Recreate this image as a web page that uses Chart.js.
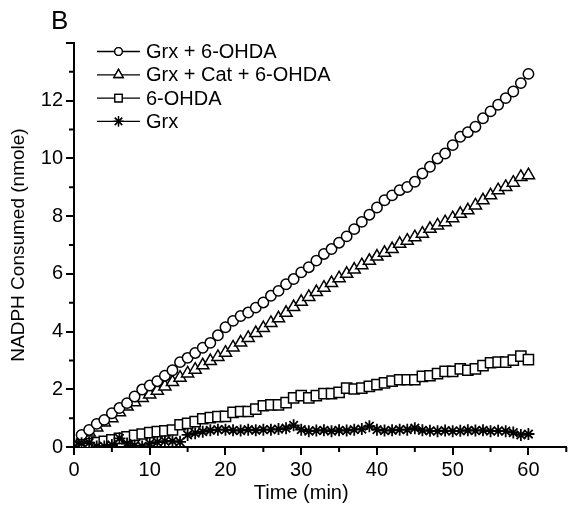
<!DOCTYPE html>
<html>
<head>
<meta charset="utf-8">
<script src="https://cdn.jsdelivr.net/npm/chart.js@4.4.0/dist/chart.umd.min.js"></script>
<style>
    html, body { margin: 0; padding: 0; background: #fff; }
    #wrap { width: 575px; height: 510px; }
</style>
</head>
<body>
<div id="wrap"><canvas id="nadphChart" width="575" height="510"></canvas></div>
<script>
// time points (min)
const timeMin = [0, 1, 2, 3, 4, 5, 6, 7, 8, 9, 10, 11, 12, 13, 14, 15, 16, 17, 18, 19, 20,
    21, 22, 23, 24, 25, 26, 27, 28, 29, 30, 31, 32, 33, 34, 35, 36, 37, 38, 39, 40,
    41, 42, 43, 44, 45, 46, 47, 48, 49, 50, 51, 52, 53, 54, 55, 56, 57, 58, 59, 60];

// NADPH consumed (nmole)
const grxOhda = [0, 0.42, 0.59, 0.80, 0.94, 1.17, 1.35, 1.52, 1.75, 1.99, 2.13,
    2.28, 2.47, 2.66, 2.94, 3.09, 3.26, 3.44, 3.61, 3.87, 4.15,
    4.37, 4.54, 4.66, 4.83, 5.01, 5.24, 5.41, 5.64, 5.82, 6.05,
    6.23, 6.46, 6.69, 6.86, 7.08, 7.30, 7.55, 7.80, 8.05, 8.30,
    8.55, 8.72, 8.90, 9.01, 9.19, 9.48, 9.71, 10.00, 10.17, 10.46,
    10.75, 10.91, 11.10, 11.39, 11.63, 11.86, 12.09, 12.32, 12.61, 12.93];

const grxCatOhda = [0, 0.30, 0.50, 0.68, 0.85, 1.00, 1.20, 1.40, 1.55, 1.70, 1.82,
    1.95, 2.10, 2.25, 2.40, 2.55, 2.68, 2.83, 2.98, 3.12, 3.27,
    3.45, 3.62, 3.78, 3.95, 4.12, 4.30, 4.46, 4.65, 4.85, 5.03,
    5.20, 5.37, 5.52, 5.68, 5.85, 6.00, 6.15, 6.30, 6.45, 6.60,
    6.73, 6.86, 7.04, 7.15, 7.27, 7.39, 7.56, 7.68, 7.79, 7.93,
    8.08, 8.20, 8.37, 8.55, 8.72, 8.90, 9.01, 9.16, 9.36, 9.42];

const ohdaOnly = [0, 0.10, 0.12, 0.15, 0.20, 0.25, 0.30, 0.35, 0.40, 0.45, 0.50,
    0.53, 0.56, 0.59, 0.77, 0.82, 0.88, 0.98, 1.02, 1.05, 1.06,
    1.20, 1.23, 1.23, 1.31, 1.43, 1.46, 1.46, 1.54, 1.70, 1.78,
    1.70, 1.78, 1.85, 1.85, 1.89, 2.04, 2.01, 2.04, 2.10, 2.16,
    2.22, 2.28, 2.33, 2.33, 2.33, 2.45, 2.47, 2.54, 2.62, 2.62,
    2.71, 2.66, 2.71, 2.82, 2.92, 2.94, 2.94, 3.01, 3.15, 3.03];

const grxOnly = [0, 0.13, 0.15, 0.02, 0.02, 0.07, 0.30, 0.12, 0.05, 0.02, 0.12,
    0.17, 0.20, 0.20, 0.18, 0.42, 0.48, 0.53, 0.58, 0.60, 0.60,
    0.58, 0.57, 0.60, 0.58, 0.60, 0.60, 0.62, 0.65, 0.75, 0.60,
    0.55, 0.57, 0.58, 0.55, 0.58, 0.57, 0.60, 0.62, 0.72, 0.60,
    0.57, 0.58, 0.60, 0.60, 0.65, 0.58, 0.56, 0.55, 0.57, 0.55,
    0.56, 0.58, 0.57, 0.58, 0.55, 0.56, 0.55, 0.50, 0.42, 0.45];

const seriesNames = ['Grx + 6-OHDA', 'Grx + Cat + 6-OHDA', '6-OHDA', 'Grx'];

// axis ticks
const xMajorTicks = [0, 10, 20, 30, 40, 50, 60];
const xMinorTicks = [5, 15, 25, 35, 45, 55, 65];
const yMajorTicks = [0, 2, 4, 6, 8, 10, 12, 14];
const yTickLabels = ['0', '2', '4', '6', '8', '10', '12', ''];
const yMinorTicks = [1, 3, 5, 7, 9, 11, 13];

const FONT = 'Arial, "Liberation Sans", sans-serif';
const markerStyles = ['circle', 'triangle', 'rect', 'star'];
const markerRadius = [5.2, 7, 7.2, 6];
const markerBorder = [1.5, 1.5, 1.5, 1.8];
const drawOrder = [1, 2, 3, 0];   // stars end up on top

function toPoints(values) {
    return timeMin.map((t, i) => ({ x: t, y: values[i] }));
}

const allSeries = [grxOhda, grxCatOhda, ohdaOnly, grxOnly];

// draws the panel letter, minor ticks, x title and the legend
const extrasPlugin = {
    id: 'extras',
    afterDraw(chart) {
        const ctx = chart.ctx;
        const xs = chart.scales.x;
        const ys = chart.scales.y;
        const area = chart.chartArea;

        ctx.save();
        ctx.strokeStyle = '#000';
        ctx.lineWidth = 2;
        ctx.beginPath();
        xMinorTicks.forEach(v => {
            const px = xs.getPixelForValue(v);
            ctx.moveTo(px, area.bottom);
            ctx.lineTo(px, area.bottom + 5);
        });
        yMinorTicks.forEach(v => {
            const py = ys.getPixelForValue(v);
            ctx.moveTo(area.left, py);
            ctx.lineTo(area.left - 5, py);
        });
        ctx.stroke();

        // panel letter
        ctx.fillStyle = '#000';
        ctx.font = '26px ' + FONT;
        ctx.textBaseline = 'alphabetic';
        ctx.textAlign = 'left';
        ctx.fillText('B', 51, 29);

        // x axis title, centred on the data range
        ctx.font = '20px ' + FONT;
        ctx.textAlign = 'center';
        ctx.textBaseline = 'middle';
        ctx.fillText('Time (min)', xs.getPixelForValue(30), 493);

        // legend
        ctx.textAlign = 'left';
        const legendMarker = [3.8, 5.4, 5.2, 5.2];
        seriesNames.forEach((name, i) => {
            const rowY = 51.5 + i * 23.3;
            ctx.lineWidth = 1.3;
            ctx.strokeStyle = '#000';
            ctx.beginPath();
            ctx.moveTo(97, rowY);
            ctx.lineTo(140, rowY);
            ctx.stroke();
            Chart.helpers.drawPoint(ctx, {
                pointStyle: markerStyles[i],
                radius: legendMarker[i],
                rotation: 0,
                borderWidth: 1.3
            }, 118.5, rowY);
            ctx.fillStyle = '#fff';
            ctx.fill();
            ctx.stroke();
            ctx.fillStyle = '#000';
            ctx.fillText(name, 146, rowY + 1);
        });
        ctx.restore();
    }
};

const ctx = document.getElementById('nadphChart').getContext('2d');
new Chart(ctx, {
    type: 'line',
    data: {
        datasets: allSeries.map((vals, i) => ({
            label: seriesNames[i],
            data: toPoints(vals),
            order: drawOrder[i],
            borderColor: '#000',
            borderWidth: 1,
            backgroundColor: '#fff',
            pointStyle: markerStyles[i],
            pointRadius: markerRadius[i],
            pointBorderWidth: markerBorder[i],
            pointBorderColor: '#000',
            pointBackgroundColor: '#fff',
            showLine: true,
            tension: 0
        }))
    },
    options: {
        responsive: false,
        animation: false,
        events: [],
        layout: { padding: { top: 43, right: 2, left: 0, bottom: 0 } },
        plugins: {
            legend: { display: false },
            tooltip: { enabled: false }
        },
        scales: {
            x: {
                type: 'linear',
                min: 0,
                max: 65,
                afterFit: (scale) => { scale.height = 63; },
                afterBuildTicks: (scale) => { scale.ticks = xMajorTicks.map(v => ({ value: v })); },
                border: { display: true, color: '#000', width: 2 },
                grid: { display: true, drawOnChartArea: false, drawTicks: true, tickLength: 8, color: '#000', lineWidth: 2 },
                ticks: { color: '#000', font: { family: FONT, size: 20 }, padding: 3, maxRotation: 0 },
                title: { display: false }
            },
            y: {
                type: 'linear',
                min: 0,
                max: 14,
                afterFit: (scale) => { scale.width = 74; },
                afterBuildTicks: (scale) => { scale.ticks = yMajorTicks.map(v => ({ value: v })); },
                border: { display: true, color: '#000', width: 2 },
                grid: { display: true, drawOnChartArea: false, drawTicks: true, tickLength: 8, color: '#000', lineWidth: 2 },
                ticks: {
                    color: '#000',
                    font: { family: FONT, size: 20 },
                    padding: 3,
                    callback: (value) => yTickLabels[yMajorTicks.indexOf(value)]
                },
                title: { display: true, text: 'NADPH Consumed (nmole)', color: '#000', font: { family: FONT, size: 19 }, padding: { top: 7, bottom: 0 } }
            }
        }
    },
    plugins: [extrasPlugin]
});
</script>
</body>
</html>
